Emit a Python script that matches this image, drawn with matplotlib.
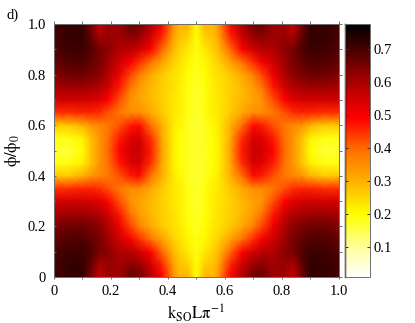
import numpy as np
import matplotlib
matplotlib.use("Agg")
import matplotlib.pyplot as plt
from matplotlib.colors import LinearSegmentedColormap, Normalize

plt.rcParams['font.family'] = ['Liberation Serif', 'DejaVu Serif']
plt.rcParams['mathtext.fontset'] = 'stix'

# quarter of the map (the reference is mirror-symmetric about k=0.5 and phi=0.5)
k_half = [0, .05, .10, .13, .16, .19, .23, .27, .30, .34, .38, .42, .44, .47, .50]
phi_half = [0, .05, .10, .15, .20, .25, .30, .35, .40, .45, .50]
row_000 = [.70, .72, .72, .65, .56, .61, .61, .67, .66, .59, .49, .35, .29, .30, .20]
row_005 = [.70, .72, .72, .67, .60, .62, .61, .63, .62, .55, .46, .32, .28, .26, .20]
row_010 = [.69, .71, .71, .69, .65, .63, .59, .58, .55, .49, .40, .29, .26, .23, .19]
row_015 = [.67, .69, .69, .67, .65, .61, .55, .50, .45, .39, .32, .26, .24, .21, .19]
row_020 = [.64, .66, .66, .65, .63, .59, .51, .43, .37, .31, .27, .24, .23, .20, .18]
row_025 = [.60, .61, .61, .60, .59, .55, .47, .38, .33, .29, .26, .24, .22, .19, .18]
row_030 = [.55, .55, .55, .54, .53, .49, .42, .34, .32, .29, .26, .23, .22, .19, .17]
row_035 = [.45, .45, .46, .46, .45, .42, .38, .35, .35, .31, .27, .23, .22, .19, .17]
row_040 = [.27, .27, .30, .34, .36, .38, .42, .47, .48, .39, .30, .23, .21, .18, .17]
row_045 = [.19, .19, .22, .28, .34, .39, .47, .53, .54, .45, .31, .22, .20, .18, .17]
row_050 = [.17, .16, .20, .28, .34, .40, .49, .55, .56, .47, .32, .22, .20, .18, .17]

x_ticks = [0, .2, .4, .6, .8, 1.0]
x_labels = ['0', '0.2', '0.4', '0.6', '0.8', '1.0']
y_labels = ['0', '0.2', '0.4', '0.6', '0.8', '1.0']
cbar_ticks = [.1, .2, .3, .4, .5, .6, .7]

quarter = np.array([row_000, row_005, row_010, row_015, row_020, row_025,
                    row_030, row_035, row_040, row_045, row_050])
half = np.vstack([quarter, quarter[-2::-1]])
Z = np.hstack([half, half[:, -2::-1]])
k = np.array(k_half + [1 - v for v in k_half[-2::-1]])
phi = np.array(phi_half + [1 - v for v in phi_half[-2::-1]])

vmin, vmax = 0.01, 0.776
def pos(v):
    return (v - vmin) / (vmax - vmin)
cmap = LinearSegmentedColormap.from_list('hotr', [
    (0.0, '#ffffff'), (pos(.1), '#ffff99'), (pos(.2), '#ffff00'), (pos(.3), '#ffb000'),
    (pos(.4), '#ff6a00'), (pos(.49), '#ff0000'), (pos(.6), '#aa0000'),
    (pos(.7), '#480000'), (1.0, '#000000')], N=256)
norm = Normalize(vmin, vmax)

W, H = 415, 323
fig = plt.figure(figsize=(W / 100, H / 100), dpi=100)
ax = fig.add_axes([54 / W, 1 - 277 / H, 284.5 / W, 253 / H])
ax.pcolormesh(k, phi, Z, cmap=cmap, norm=norm, shading='gouraud', rasterized=True)
ax.set_xlim(0, 1)
ax.set_ylim(0, 1)
ax.set_xticks(x_ticks, x_labels)
ax.set_yticks(x_ticks, y_labels)
ax.set_xticks(np.arange(0, 1.01, .1), minor=True)
ax.set_yticks(np.arange(0, 1.01, .1), minor=True)
grey = '#6e6e6e'
ax.tick_params(which='both', width=0.7, color=grey, labelsize=10.5)
ax.tick_params(axis='x', which='both', direction='out', length=1.2, top=True, pad=4.5)
ax.tick_params(axis='y', which='both', direction='in', length=1.2, pad=6)
ax2 = ax.secondary_xaxis('top')
ax2.set_xticks(np.arange(0, 1.01, .1), [])
ax2.tick_params(direction='out', length=2.5, width=0.7, color=grey)
ax2.spines['top'].set_visible(False)
ax3 = ax.secondary_yaxis('right')
ax3.set_yticks(np.arange(0, 1.01, .1), [])
ax3.tick_params(direction='out', length=2.5, width=0.7, color=grey)
ax3.spines['right'].set_visible(False)
for s in ax.spines.values():
    s.set_color(grey)
    s.set_linewidth(0.7)
ax.set_xlabel(r'$\mathrm{k_{SO}L\pi^{-1}}$', fontsize=12, labelpad=3)
ax.set_ylabel(r'$\mathrm{\phi/\phi_0}$', fontsize=12, labelpad=3)
fig.text(6 / W, 1 - 19 / H, 'd)', fontsize=10.5)

cax = fig.add_axes([344.5 / W, 1 - 277 / H, 25 / W, 253 / H])
sm = plt.cm.ScalarMappable(norm=norm, cmap=cmap)
cb = fig.colorbar(sm, cax=cax)
cb.set_ticks(cbar_ticks)
cb.ax.set_yticklabels([f'{v:.1f}' for v in cbar_ticks])
cax.tick_params(direction='in', length=2.5, width=0.7, color='#333333', left=True, right=True,
                labelsize=10.5, pad=3)
cb.outline.set_edgecolor(grey)
cb.outline.set_linewidth(0.7)
cax.plot([0, 0], [0, 1], transform=cax.transAxes, color='black', lw=1, clip_on=False)
fig.savefig('out.png', dpi=100)
